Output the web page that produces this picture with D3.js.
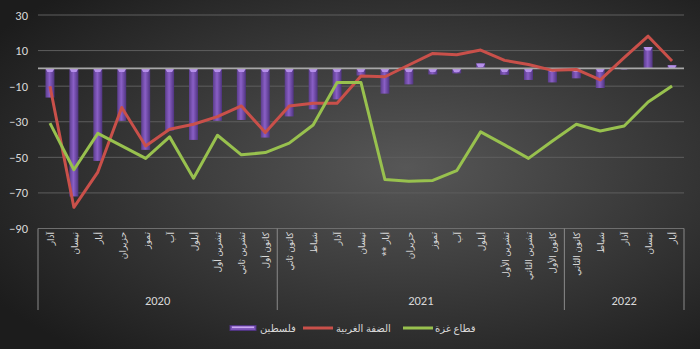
<!DOCTYPE html>
<html><head><meta charset="utf-8">
<script src="https://cdn.jsdelivr.net/npm/d3@7"></script>
<style>html,body{margin:0;padding:0;background:#2a2a2a;}svg{display:block;}</style>
</head><body><svg id="c" width="700" height="349"></svg>
<script>
const months = ["آذار","نيسان","أيار","حزيران","تموز","آب","أيلول","تشرين أول","تشرين ثاني","كانون أول",
 "كانون ثاني","شباط","آذار","نيسان","أيار **","حزيران","تموز","آب","أيلول","تشرين الأول","تشرين الثاني","كانون الأول",
 "كانون الثاني","شباط","آذار","نيسان","أيار"];
const years = [{label:"2020", n:10},{label:"2021", n:12},{label:"2022", n:5}];
const palestine = [-16.4,-72,-52,-29.5,-45.8,-35,-40.2,-29.5,-29,-38.9,-27,-23,-17.4,-4,-14.2,-9,-3.4,-2.8,2.8,-3.6,-6.5,-7.9,-5.6,-11,-0.5,12,1.7];
const westBank = [-10,-78.1,-58.3,-22,-43.6,-34.2,-31.4,-27.1,-21.1,-36.1,-21.1,-19.6,-19.6,-4.3,-4.7,1.9,8.4,7.7,10.3,4.5,2.2,-1.1,-0.6,-6.5,6,18.1,4.1];
const gaza = [-30.8,-57,-36.5,-43.6,-50.6,-38.5,-61.7,-37.6,-48.6,-47.3,-42,-31.8,-8,-8,-62.5,-63.5,-63,-57.5,-35.7,-43,-50.6,-40.8,-31.4,-35.2,-32.4,-18.9,-9.9];
const yTicks = [30,10,-10,-30,-50,-70,-90];
const seriesNames = ["فلسطين","الضفة الغربية","قطاع غزة"];

const svg = d3.select("#c");
const W = 700, H = 349;
const defs = svg.append("defs");
const bg = defs.append("radialGradient").attr("id","bg").attr("cx","58%").attr("cy","48%").attr("r","70%");
bg.append("stop").attr("offset","0%").attr("stop-color","#575757");
bg.append("stop").attr("offset","100%").attr("stop-color","#1c1c1c");
svg.append("rect").attr("width",W).attr("height",H).attr("fill","url(#bg)");

const barG = defs.append("linearGradient").attr("id","barg").attr("x1","0").attr("x2","1").attr("y1","0").attr("y2","0");
barG.append("stop").attr("offset","0%").attr("stop-color","#5b3d8c");
barG.append("stop").attr("offset","45%").attr("stop-color","#8a5fc6");
barG.append("stop").attr("offset","100%").attr("stop-color","#4f3480");

const x0 = 38, x1 = 684;
const x = d3.scaleBand().domain(d3.range(months.length)).range([x0,x1]);
const xc = i => x(i) + x.bandwidth()/2;
const y = d3.scaleLinear().domain([-90,30]).range([228.5,15]);

// gridlines
svg.append("g").selectAll("line").data(yTicks).join("line")
  .attr("x1",x0).attr("x2",x1).attr("y1",d=>y(d)).attr("y2",d=>y(d))
  .attr("stroke",d=>d===-90?"#6e6e6e":"#5e5e5e").attr("stroke-width",1);

// y axis labels
const yAxis = d3.axisLeft(y).tickValues(yTicks).tickSize(0).tickPadding(0);
const ya = svg.append("g").attr("transform",`translate(28,0)`).call(yAxis);
ya.select(".domain").remove();
ya.selectAll("text").attr("fill","#d9d9d9").attr("font-family","Calibri, Carlito, 'Liberation Sans', sans-serif").attr("font-size",12.5);

// bars
const bw = 9;
const bars = svg.append("g");
bars.selectAll("rect").data(palestine).join("rect")
  .attr("x",(d,i)=>xc(i)-bw/2).attr("width",bw)
  .attr("y",d=>y(Math.max(0,d))).attr("height",d=>Math.abs(y(d)-y(0)))
  .attr("fill","url(#barg)");
bars.selectAll("path.cap").data(palestine).join("path").attr("class","cap")
  .attr("d",(d,i)=>{
    const cx = xc(i), yt = y(Math.max(0,d)), h = Math.min(3.5, Math.abs(y(d)-y(0)));
    if (h < 0.8) return "";
    return `M${cx-bw/2},${yt} L${cx+bw/2},${yt} L${cx+bw/2-2},${yt+h} L${cx-bw/2+2},${yt+h} Z`;
  })
  .attr("fill","#b690ea");

// zero line
svg.append("line").attr("x1",x0).attr("x2",x1).attr("y1",y(0)).attr("y2",y(0))
  .attr("stroke","#a8a8a8").attr("stroke-width",1.8);

// lines
const line = d3.line().x((d,i)=>xc(i)).y(d=>y(d));
svg.append("path").datum(westBank).attr("d",line).attr("fill","none")
  .attr("stroke","#c9504a").attr("stroke-width",3).attr("stroke-linejoin","round");
svg.append("path").datum(gaza).attr("d",line).attr("fill","none")
  .attr("stroke","#98c14e").attr("stroke-width",3).attr("stroke-linejoin","round");

// category axis
const axG = svg.append("g");
let idx = 0;
const seps = [0];
years.forEach(yr=>{ idx += yr.n; seps.push(idx); });
const edge = i => i < months.length ? x(i) : x1;
axG.selectAll("line.sep").data(seps).join("line").attr("class","sep")
  .attr("x1",edge).attr("x2",edge)
  .attr("y1",228.5).attr("y2",310).attr("stroke","#8a8a8a").attr("stroke-width",1);

axG.selectAll("text.m").data(months).join("text").attr("class","m")
  .attr("transform",(d,i)=>`translate(${xc(i)+4},232) rotate(-90)`)
  .attr("direction","rtl").attr("text-anchor","start").attr("fill","#d9d9d9")
  .attr("font-family","'Noto Sans', 'DejaVu Sans', sans-serif").attr("font-size",9)
  .text(d=>d);

let start = 0;
years.forEach(yr=>{
  const cx = x0 + (start + yr.n/2)*x.step();
  axG.append("text").attr("x",cx).attr("y",305).attr("text-anchor","middle")
    .attr("fill","#d9d9d9").attr("font-family","Calibri, Carlito, 'Liberation Sans', sans-serif").attr("font-size",12.5).text(yr.label);
  start += yr.n;
});

// legend
const lg = svg.append("g").attr("font-family","'Noto Sans', 'DejaVu Sans', sans-serif").attr("font-size",10).attr("fill","#d9d9d9");
lg.append("rect").attr("x",230).attr("y",325.5).attr("width",26).attr("height",5).attr("fill","#7c54b8").attr("stroke","#4f3480").attr("stroke-width",1);
lg.append("rect").attr("x",232).attr("y",326.5).attr("width",22).attr("height",1.6).attr("fill","#c9a6f2");
lg.append("text").attr("x",260).attr("y",332).text(seriesNames[0]);
lg.append("line").attr("x1",303).attr("x2",333).attr("y1",328).attr("y2",328).attr("stroke","#c9504a").attr("stroke-width",3);
lg.append("text").attr("x",336).attr("y",332).text(seriesNames[1]);
lg.append("line").attr("x1",403).attr("x2",433).attr("y1",328).attr("y2",328).attr("stroke","#98c14e").attr("stroke-width",3);
lg.append("text").attr("x",435).attr("y",332).text(seriesNames[2]);
</script></body></html>
